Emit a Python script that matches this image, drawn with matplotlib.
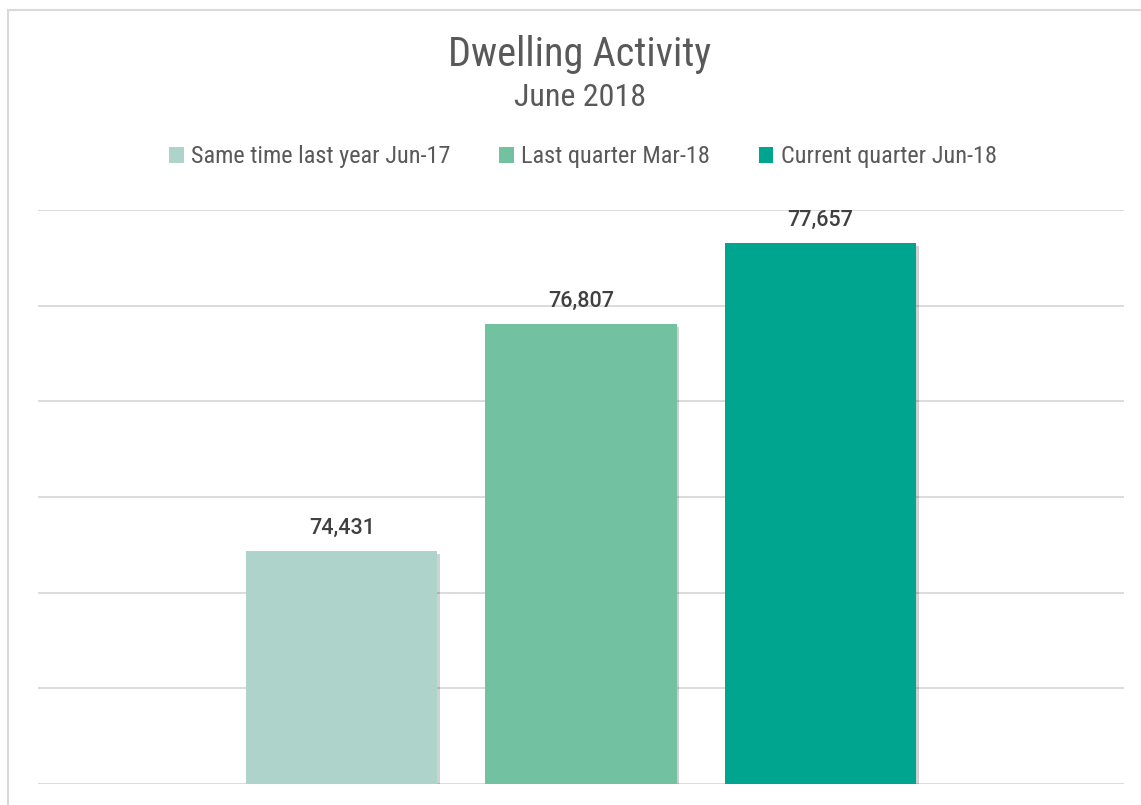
import matplotlib.pyplot as plt
from matplotlib import font_manager
from matplotlib.patches import Rectangle, Patch
import matplotlib.patheffects as pe

# Données
series = ['Same time last year Jun-17', 'Last quarter Mar-18', 'Current quarter Jun-18']
values = [74431, 76807, 77657]
colors = ['#AED3CA', '#72C2A2', '#00A58F']

# police étroite si disponible
names = {f.name for f in font_manager.fontManager.ttflist}
narrow = 'DejaVu Sans'
for cand in ['Liberation Sans Narrow', 'Roboto Condensed', 'Open Sans Condensed']:
    if cand in names:
        narrow = cand
        break
plt.rcParams['font.family'] = [narrow, 'DejaVu Sans']
plt.rcParams['font.stretch'] = 'condensed'
text_col = '#595959'

fig = plt.figure(figsize=(11.41, 8.05), dpi=100)
ax = fig.add_axes([38 / 1141, 21 / 805, (1124 - 38) / 1141, (784 - 210) / 805])

x = range(len(values))
bars = ax.bar(x, values, width=0.8, color=colors, zorder=3)
for b in bars:
    b.set_path_effects([pe.SimplePatchShadow(offset=(2, -2), shadow_rgbFace='#000000', alpha=0.18),
                        pe.Normal()])

for xi, v in zip(x, values):
    ax.text(xi, v + 130, f'{v:,}', ha='center', va='bottom', fontsize=15.5, fontweight='medium',
            color='#404040', family=['Roboto', 'DejaVu Sans'], stretch='normal')

ax.set_ylim(72000, 78000)
ax.set_yticks(range(72000, 78001, 1000))
ax.set_xlim(-1.27, 3.27)
ax.grid(axis='y', color='#d9d9d9', linewidth=1.3, zorder=0)
ax.tick_params(left=False, bottom=False, labelleft=False, labelbottom=False)
for s in ax.spines.values():
    s.set_visible(False)

# cadre du graphique
fig.patches.append(Rectangle((8 / 1141, -0.1), 1.2, 1 - 10 / 805 + 0.1, transform=fig.transFigure,
                             fill=False, edgecolor='#d9d9d9', linewidth=1.5))

fig.text(0.508, 1 - 55 / 805, 'Dwelling Activity', ha='center', va='center', fontsize=29, color=text_col)
fig.text(0.508, 1 - 97 / 805, 'June 2018', ha='center', va='center', fontsize=23, color=text_col)

handles = [Patch(facecolor=c, label=s) for c, s in zip(colors, series)]
fig.legend(handles=handles, loc='center', bbox_to_anchor=(0.511, 1 - 157 / 805), ncol=3, frameon=False,
           fontsize=17.5, labelcolor=text_col, handlelength=0.6, handleheight=0.6, handletextpad=0.3,
           columnspacing=2.0)

plt.savefig('out.png', dpi=100)
